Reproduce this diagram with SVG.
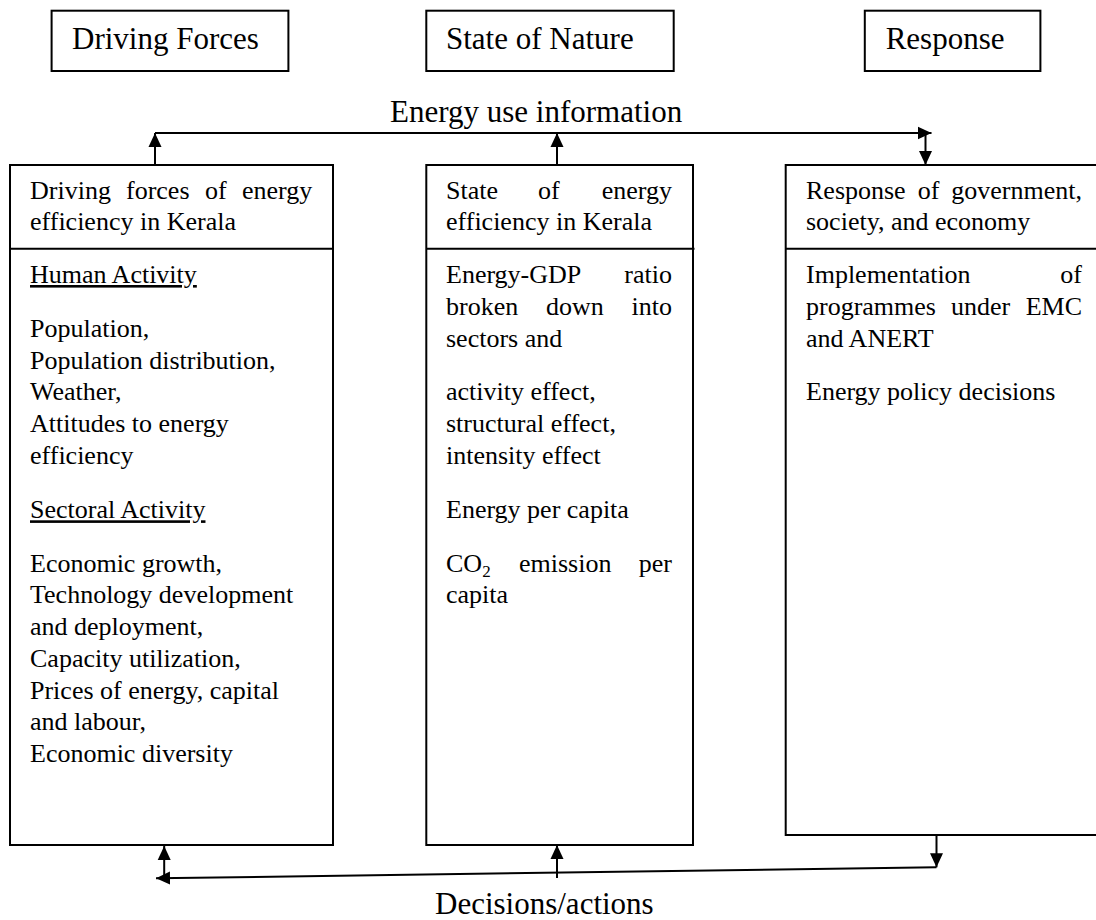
<svg xmlns="http://www.w3.org/2000/svg" width="1096" height="920" viewBox="0 0 1096 920">
<style>
.box{fill:#fff;stroke:#000;stroke-width:2}
.div{stroke:#000;stroke-width:2}
.h{font-family:"Liberation Serif","Times New Roman",serif;font-size:31px;fill:#000}
.t{font-family:"Liberation Serif","Times New Roman",serif;font-size:26px;fill:#000}
.u{text-decoration:underline}
.e{text-anchor:end}
.c{fill:none;stroke:#000;stroke-width:2}
</style>
<defs>
<marker id="ah" viewBox="0 0 14 14" refX="14" refY="7" markerWidth="14" markerHeight="14" markerUnits="userSpaceOnUse" orient="auto"><path d="M0,0.5 L14,7 L0,13.5 z" fill="#000"/></marker>
</defs>
<rect width="1096" height="920" fill="#fff"/>

<g id="hdr-driving">
<rect class="box" x="51.6" y="10.7" width="236.8" height="60.3"/>
<text class="h" x="72" y="49">Driving Forces</text>
</g>
<g id="hdr-state">
<rect class="box" x="426.3" y="10.7" width="247.4" height="60.3"/>
<text class="h" x="446" y="49">State of Nature</text>
</g>
<g id="hdr-response">
<rect class="box" x="864.8" y="10.7" width="175.6" height="60.3"/>
<text class="h" x="885.7" y="49">Response</text>
</g>

<g id="node-driving">
<rect class="box" x="10" y="165" width="323" height="680"/>
<line class="div" x1="10" y1="248.7" x2="333" y2="248.7"/>
<text class="t" x="30" y="199">Driving</text>
<text class="t" x="126" y="199">forces</text>
<text class="t" x="205" y="199">of</text>
<text class="t e" x="312.3" y="199">energy</text>
<text class="t" x="30" y="230">efficiency in Kerala</text>
<text class="t u" x="30" y="283">Human Activity</text>
<text class="t" x="30" y="337">Population,</text>
<text class="t" x="30" y="368.7">Population distribution,</text>
<text class="t" x="30" y="400.4">Weather,</text>
<text class="t" x="30" y="432.2">Attitudes to energy</text>
<text class="t" x="30" y="464">efficiency</text>
<text class="t u" x="30" y="518.3">Sectoral Activity</text>
<text class="t" x="30" y="571.7">Economic growth,</text>
<text class="t" x="30" y="603.4">Technology development</text>
<text class="t" x="30" y="635.1">and deployment,</text>
<text class="t" x="30" y="666.8">Capacity utilization,</text>
<text class="t" x="30" y="698.5">Prices of energy, capital</text>
<text class="t" x="30" y="730.2">and labour,</text>
<text class="t" x="30" y="762">Economic diversity</text>
</g>

<g id="node-state">
<rect class="box" x="426.3" y="165" width="266.7" height="680"/>
<line class="div" x1="426.3" y1="248.7" x2="694.5" y2="248.7"/>
<text class="t" x="446" y="199">State</text>
<text class="t" x="538" y="199">of</text>
<text class="t e" x="672" y="199">energy</text>
<text class="t" x="446" y="230">efficiency in Kerala</text>
<text class="t" x="446" y="283">Energy-GDP</text>
<text class="t e" x="672" y="283">ratio</text>
<text class="t" x="446" y="315">broken</text>
<text class="t" x="546" y="315">down</text>
<text class="t e" x="672" y="315">into</text>
<text class="t" x="446" y="346.7">sectors and</text>
<text class="t" x="446" y="400.4">activity effect,</text>
<text class="t" x="446" y="432.2">structural effect,</text>
<text class="t" x="446" y="464">intensity effect</text>
<text class="t" x="446" y="518.3">Energy per capita</text>
<text class="t" x="446" y="571.7">CO<tspan font-size="17" dy="5">2</tspan></text>
<text class="t" x="519" y="571.7">emission</text>
<text class="t e" x="672" y="571.7">per</text>
<text class="t" x="446" y="603.4">capita</text>
</g>

<g id="node-response">
<rect class="box" x="785.7" y="165" width="320" height="670"/>
<line class="div" x1="785.7" y1="248.7" x2="1100" y2="248.7"/>
<text class="t" x="806" y="199">Response</text>
<text class="t" x="917.7" y="199">of</text>
<text class="t e" x="1082" y="199">government,</text>
<text class="t" x="806" y="230">society, and economy</text>
<text class="t" x="806" y="283">Implementation</text>
<text class="t e" x="1082" y="283">of</text>
<text class="t" x="806" y="315">programmes</text>
<text class="t" x="951" y="315">under</text>
<text class="t e" x="1082" y="315">EMC</text>
<text class="t" x="806" y="346.7">and ANERT</text>
<text class="t" x="806" y="400.4">Energy policy decisions</text>
</g>

<g id="connectors">
<path class="c" d="M155,133 H931.5" marker-end="url(#ah)"/>
<path class="c" d="M155,165 V133" marker-end="url(#ah)"/>
<path class="c" d="M557,165 V133" marker-end="url(#ah)"/>
<path class="c" d="M925.5,133 V165" marker-end="url(#ah)"/>
<path class="c" d="M936.5,835 V867.3" marker-end="url(#ah)"/>
<path class="c" d="M936.5,867.3 L156,878.3" marker-end="url(#ah)"/>
<path class="c" d="M164.2,876 V846" marker-end="url(#ah)"/>
<path class="c" d="M557,878 V845" marker-end="url(#ah)"/>
<text class="h" x="390" y="122">Energy use information</text>
<text class="h" x="435" y="914">Decisions/actions</text>
</g>
</svg>
